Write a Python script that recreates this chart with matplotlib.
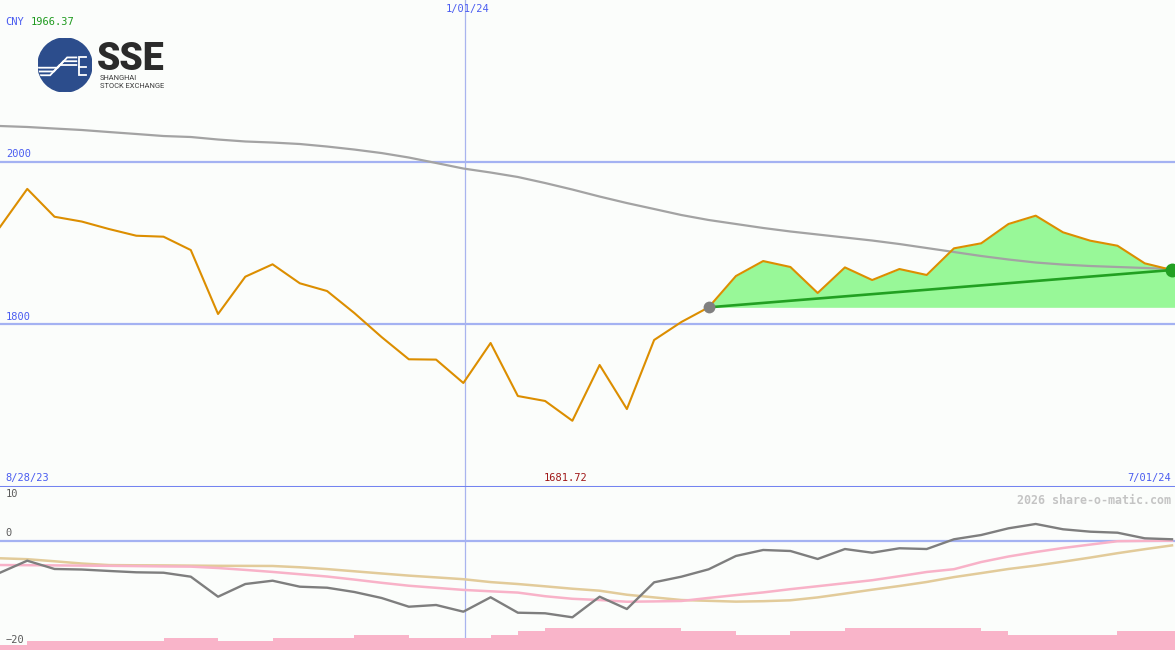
"""SSE index weekly chart with moving average and oscillator panel."""
import numpy as np
import matplotlib
matplotlib.use('Agg')
import matplotlib.pyplot as plt
from matplotlib.patches import Circle
from matplotlib.transforms import blended_transform_factory

W, H = 1175, 650
BG = '#fbfdfb'

# weekly closes, 8/28/23 .. 7/01/24
price = [1919.6, 1966.37, 1932.2, 1926.3, 1917.1, 1908.9, 1907.7, 1891.3,
         1812.8, 1858.6, 1873.8, 1850.5, 1841.0, 1814.0, 1784.5, 1757.2,
         1756.8, 1728.1, 1777.2, 1712.1, 1706.0, 1681.72, 1750.2, 1696.1,
         1780.9, 1803.0, 1821.0, 1859.4, 1877.8, 1870.5, 1838.6, 1870.0,
         1854.5, 1868.0, 1860.7, 1893.4, 1899.6, 1923.3, 1933.5, 1913.1,
         1902.8, 1896.6, 1875.0, 1866.8]
moving_avg = [2043.6, 2042.4, 2040.5, 2038.7, 2036.2, 2033.8, 2031.3, 2030.1,
              2027.0, 2024.6, 2023.3, 2021.5, 2018.4, 2014.7, 2010.4, 2004.9,
              1998.2, 1991.4, 1986.5, 1981.0, 1973.6, 1965.6, 1957.0, 1949.0,
              1941.7, 1934.3, 1928.2, 1923.3, 1918.4, 1914.1, 1910.4, 1906.7,
              1903.0, 1898.7, 1893.8, 1888.9, 1884.0, 1879.7, 1876.0, 1873.5,
              1871.7, 1870.5, 1869.3, 1868.0]
oscillator = [-5.93, -3.68, -5.23, -5.33, -5.6, -5.85, -5.93, -6.67, -10.41,
              -8.04, -7.42, -8.54, -8.73, -9.53, -10.65, -12.28, -11.96, -13.21,
              -10.52, -13.4, -13.51, -14.26, -10.41, -12.71, -7.72, -6.67, -5.29,
              -2.8, -1.68, -1.87, -3.36, -1.5, -2.19, -1.36, -1.5, 0.32, 1.12,
              2.37, 3.18, 2.19, 1.74, 1.55, 0.5, 0.32]
signal_fast = [-4.49, -4.52, -4.56, -4.6, -4.64, -4.69, -4.75, -4.79, -5.05,
               -5.4, -5.78, -6.21, -6.64, -7.21, -7.81, -8.36, -8.75, -9.14,
               -9.4, -9.64, -10.32, -10.8, -11.03, -11.35, -11.29, -11.21,
               -10.64, -10.11, -9.61, -9.0, -8.45, -7.89, -7.33, -6.58, -5.79,
               -5.27, -3.93, -2.9, -2.06, -1.31, -0.67, -0.04, 0.02, 0.06]
signal_slow = [-3.23, -3.4, -3.79, -4.21, -4.5, -4.54, -4.56, -4.6, -4.64,
               -4.65, -4.67, -4.91, -5.25, -5.66, -6.07, -6.47, -6.8, -7.14,
               -7.68, -8.04, -8.47, -8.92, -9.29, -10.04, -10.54, -11.03, -11.18,
               -11.33, -11.25, -11.08, -10.54, -9.83, -9.1, -8.41, -7.66, -6.75,
               -6.0, -5.23, -4.6, -3.87, -3.1, -2.28, -1.53, -0.82]
volume = [5.0, 9.3, 9.3, 9.3, 9.3, 9.3, 12.3, 12.3, 9.3, 9.3, 12.3, 12.3,
          12.3, 15.0, 15.0, 12.3, 12.3, 12.3, 15.0, 19.3, 22.3, 22.3, 22.3,
          22.3, 22.3, 19.3, 19.3, 15.0, 15.0, 19.3, 19.3, 22.3, 22.3, 22.3,
          22.3, 22.3, 19.3, 15.0, 15.0, 15.0, 15.0, 19.3, 19.3, 19.3]
trend_start = 26          # week where the green trend segment begins
jan01_pos = 17.06         # position of the 1/01/24 marker
start_label, end_label, jan_label = '8/28/23', '7/01/24', '1/01/24'

x = np.arange(len(price))
x_max = 43.11
price_lim = (1600.4, 2198.3)
osc_lim = (-20.37, 10.09)

fig = plt.figure(figsize=(W / 100, H / 100), dpi=100, facecolor=BG)
ax = fig.add_axes([0, 163 / H, 1, 487 / H], facecolor=BG)
ax2 = fig.add_axes([0, 0, 1, 163 / H], facecolor=BG)
for a in (ax, ax2):
    a.set_xlim(0, x_max)
    a.set_axis_off()
ax.set_ylim(*price_lim)
ax2.set_ylim(*osc_lim)

MONO = 'DejaVu Sans Mono'
BLUE_TXT = '#4a5cf0'
GRID = '#a4b2f2'
FS = 7.5

# ---- price panel
left = blended_transform_factory(ax.transAxes, ax.transData)
for lvl in (2000, 1800):
    ax.axhline(lvl, color=GRID, lw=1.6, zorder=1)
    ax.text(0.005, lvl + 3, str(lvl), transform=left,
            color=BLUE_TXT, fontsize=FS, family=MONO, va='bottom', ha='left')
ax.axvline(jan01_pos, color='#a8b4ee', lw=0.9, zorder=1)
ax.axhline(price_lim[0], color='#7383f0', lw=2.2, zorder=5)

ax.plot(x, moving_avg, color='#a3a3a3', lw=1.6, zorder=3)

xs = x[trend_start:]
ps = np.array(price[trend_start:])
base = price[trend_start]
ax.fill_between(np.append(xs, x_max), np.append(ps, ps[-1]), base,
                color='#98f898', lw=0, zorder=2)
ax.plot(x, price, color='#dc8e00', lw=1.5, zorder=4)
ax.plot([xs[0], xs[-1]], [base, ps[-1]], color='#22a022', lw=1.9, zorder=5)
ax.plot(xs[0], base, 'o', ms=8.5, color='#808080', mec='none', zorder=6)
ax.plot(xs[-1], ps[-1], 'o', ms=10, color='#22a022', mec='none', zorder=6)

imax = int(np.argmax(price))
imin = int(np.argmin(price))
fig.text(5 / W, 1 - 25 / H, 'CNY', color=BLUE_TXT, fontsize=FS, family=MONO, va='baseline')
fig.text(31 / W, 1 - 25 / H, f'{price[imax]:.2f}', color='#1e9a1e', fontsize=FS,
         family=MONO, va='baseline')
top = blended_transform_factory(ax.transData, fig.transFigure)
ax.text(jan01_pos + 0.1, 1 - 4 / H, jan_label, transform=top, color=BLUE_TXT,
        fontsize=FS, family=MONO, ha='center', va='top')
ax.text(0.005, 1605, start_label, transform=left,
        color=BLUE_TXT, fontsize=FS, family=MONO, va='bottom', ha='left')
ax.text(0.997, 1605, end_label, transform=left,
        color=BLUE_TXT, fontsize=FS, family=MONO, va='bottom', ha='right')
ax.text(imin - 0.25, 1605, f'{price[imin]:.2f}', color='#a01818', fontsize=FS,
        family=MONO, va='bottom', ha='center')

# ---- logo
lg = fig.add_axes([38 / W, 1 - 92 / H, 54 / W, 54 / H])
lg.set_xlim(-1, 1)
lg.set_ylim(-1, 1)
lg.set_axis_off()
disc = Circle((0, 0), 1, color='#2c4d8c')
lg.add_patch(disc)
for k in range(3):
    d = k * 0.14
    ln, = lg.plot([-1.1, -0.55 + d, -0.2 + d, 0.42],
                  [-0.38 + d, -0.38 + d, 0.0 + d, 0.0 + d],
                  color='white', lw=1.3, solid_joinstyle='miter')
    ln.set_clip_path(disc)
lg.plot([0.78, 0.5, 0.5, 0.78], [0.28, 0.28, -0.38, -0.38], color='white', lw=1.3,
        solid_joinstyle='miter')
lg.plot([0.5, 0.76], [-0.06, -0.06], color='white', lw=1.3)
fig.text(97 / W, 1 - 70 / H, 'SSE', family='Roboto', weight='black', fontsize=27,
         color='#2b2b2b', va='baseline')
fig.text(100 / W, 1 - 80 / H, 'SHANGHAI', family='Roboto', fontsize=5.4, color='#3a3a3a', va='baseline')
fig.text(100 / W, 1 - 87.5 / H, 'STOCK EXCHANGE', family='Roboto', fontsize=5.4, color='#3a3a3a', va='baseline')

# ---- oscillator panel
axv = ax2.twinx()
axv.set_ylim(0, 163)
axv.set_xlim(0, x_max)
axv.set_axis_off()
axv.bar(x, volume, width=1.0, align='edge', color='#f9b4c9', lw=0, zorder=1)
ax2.axvline(jan01_pos, color='#a8b4ee', lw=0.9, zorder=1)
ax2.axhline(0, color=GRID, lw=1.6, zorder=1)
ax2.plot(x, signal_slow, color='#e2cb9a', lw=1.8, zorder=2)
ax2.plot(x, signal_fast, color='#f8b2c8', lw=1.8, zorder=3)
ax2.plot(x, oscillator, color='#7e7e7e', lw=1.7, zorder=4)
lt = blended_transform_factory(ax2.transAxes, ax2.transData)
for val, ypos in ((10, 7.8), (0, 0.5), (-20, -19.4)):
    ax2.text(0.005, ypos, str(val).replace('-', '\u2212'),
             transform=lt, color='#5a5a5a', fontsize=FS, family=MONO, va='bottom', ha='left', zorder=6)
ax2.text(0.997, 0.96, '2026 share-o-matic.com', transform=ax2.transAxes, color='#c4c4c4',
         fontsize=8.4, family=MONO, weight='bold', ha='right', va='top')

fig.savefig('out.png', dpi=100, facecolor=BG)
